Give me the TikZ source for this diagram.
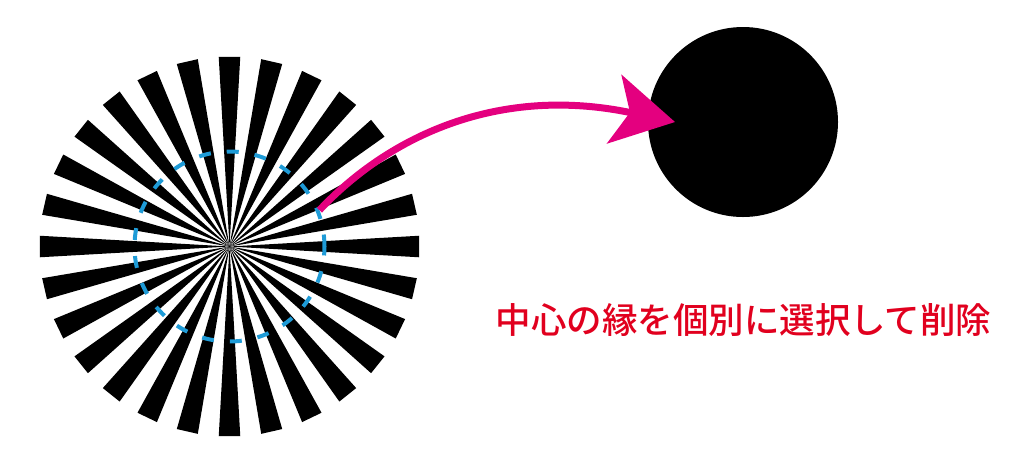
\documentclass[tikz,border=0pt]{standalone}
\usepackage{fontspec}
\newfontfamily\jpfont{Noto Sans CJK JP}[UprightFont=* Medium]
\usepackage{tikz}
\usetikzlibrary{positioning, calc, arrows.meta}
\definecolor{rimblue}{RGB}{30,155,215}
\definecolor{arcpink}{RGB}{228,0,127}
\definecolor{msgred}{RGB}{225,0,30}
\tikzset{spoke/.style={fill=black}}
\tikzset{rimline/.style={draw=rimblue, line width=4pt, dash pattern=on 12pt off 16pt}}
\tikzset{arc/.style={draw=arcpink, line width=7pt, -{Stealth[length=62pt, width=70pt, inset=16pt]}}}

\begin{document}
\begin{tikzpicture}[x=1pt, y=-1pt]
      \useasboundingbox (0,0) rectangle (1024,467);

      \coordinate (hub) at (229.5,246.5);
      \foreach \a in {0,12.857,...,359} {
        \fill[spoke] (hub) -- ($(hub)+(\a-3.25:190)$) -- ($(hub)+(\a+3.25:190)$) -- cycle;
      }

      \node[circle, rimline, inner sep=0pt, minimum size=190pt] (rim) at (hub) {};

      \node[circle, fill=black, inner sep=0pt, minimum size=190pt] (dot) at (743,122) {};

      \coordinate (tip) at (675,122);
      \draw[arc] (rim.22) .. controls (390,135) and (500,85) .. (tip);

      \node[text=msgred, font=\jpfont\fontsize{35.5pt}{40pt}\selectfont, inner sep=0pt] (msg) at (743.5,320.5) {中心の縁を個別に選択して削除};
    \end{tikzpicture}
\end{document}
